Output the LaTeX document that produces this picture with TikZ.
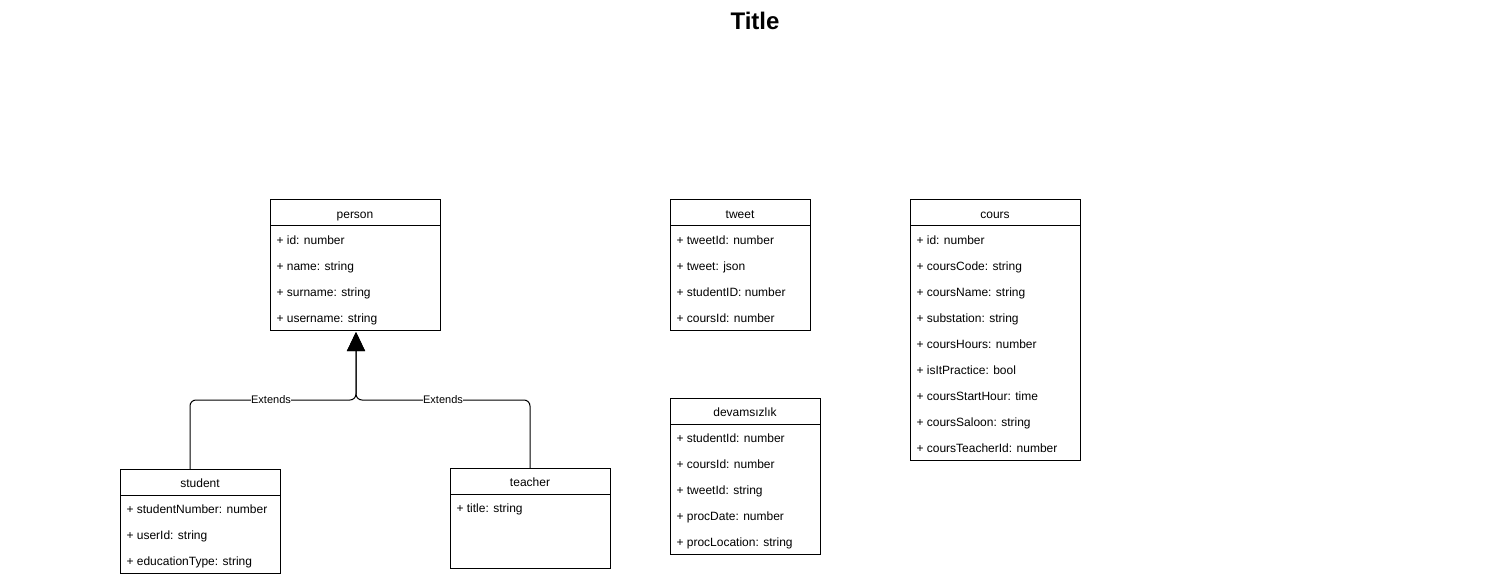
\documentclass[tikz,border=0pt]{standalone}
\usepackage{fontspec}
\setmainfont{Liberation Sans}
\usetikzlibrary{arrows.meta}
\begin{document}
\begin{tikzpicture}[x=1pt,y=-1pt, line width=1pt,
 box/.style={draw, anchor=north west, inner sep=0, outer sep=0},
 hdr/.style={draw, anchor=north west, minimum height=26, inner sep=0, outer sep=0, text height=12, text depth=1, font=\fontsize{12}{14}\selectfont},
 row/.style={anchor=west, inner sep=0, text height=12, text depth=1, font=\fontsize{12}{14}\selectfont},
 lbl/.style={fill=white, inner sep=0.5, text height=9, text depth=1.5, font=\fontsize{11}{13}\selectfont},
 ext/.style={rounded corners=6, -{Triangle[length=19,width=18]}}]
\useasboundingbox (0,0) rectangle (1511,577);
\node[font=\bfseries\fontsize{24}{28}\selectfont] (title) at (755,21) {Title};

% person
\node[box, minimum width=170, minimum height=130] (person) at (270,200) {};
\node[hdr, minimum width=170] (person-h) at (270,200) {person};
\foreach \t [count=\i] in {{+ id: number},{+ name: string},{+ surname: string},{+ username: string}}
  \node[row] (person-\i) at (276,{239+26*(\i-1)}) {\t};

% tweet
\node[box, minimum width=140, minimum height=130] (tweet) at (670,200) {};
\node[hdr, minimum width=140] (tweet-h) at (670,200) {tweet};
\foreach \t [count=\i] in {{+ tweetId: number},{+ tweet: json},{+ studentID: number},{+ coursId: number}}
  \node[row] (tweet-\i) at (676,{239+26*(\i-1)}) {\t};

% cours
\node[box, minimum width=170, minimum height=260] (cours) at (910,200) {};
\node[hdr, minimum width=170] (cours-h) at (910,200) {cours};
\foreach \t [count=\i] in {{+ id: number},{+ coursCode: string},{+ coursName: string},{+ substation: string},{+ coursHours: number},{+ isItPractice: bool},{+ coursStartHour: time},{+ coursSaloon: string},{+ coursTeacherId: number}}
  \node[row] (cours-\i) at (916,{239+26*(\i-1)}) {\t};

% devamsizlik
\node[box, minimum width=150, minimum height=156] (devam) at (670,398) {};
\node[hdr, minimum width=150] (devam-h) at (670,398) {devamsızlık};
\foreach \t [count=\i] in {{+ studentId: number},{+ coursId: number},{+ tweetId: string},{+ procDate: number},{+ procLocation: string}}
  \node[row] (devam-\i) at (676,{437+26*(\i-1)}) {\t};

% student
\node[box, minimum width=160, minimum height=104] (student) at (120,469) {};
\node[hdr, minimum width=160] (student-h) at (120,469) {student};
\foreach \t [count=\i] in {{+ studentNumber: number},{+ userId: string},{+ educationType: string}}
  \node[row] (student-\i) at (126,{508+26*(\i-1)}) {\t};

% teacher
\node[box, minimum width=160, minimum height=100] (teacher) at (450,468) {};
\node[hdr, minimum width=160] (teacher-h) at (450,468) {teacher};
\node[row] (teacher-1) at (456,507) {+ title: string};

% connectors
\path ([xshift=1pt]person.south) ++(0,70) coordinate (j);
\draw[ext] ([xshift=-10pt]student.north) |- (j) -- ([shift={(1pt,-2pt)}]person.south);
\draw[ext] (teacher.north) |- (j) -- ([shift={(1pt,-2pt)}]person.south);
\node[lbl] (ext1) at (271,400) {Extends};
\node[lbl] (ext2) at (443,400) {Extends};
\end{tikzpicture}
\end{document}
